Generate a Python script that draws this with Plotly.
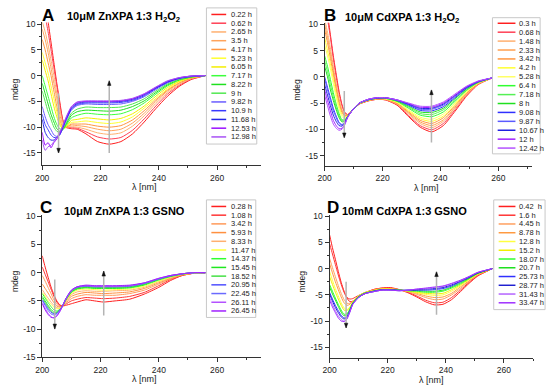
import plotly.graph_objects as go

W, H = 550, 392

# ---------------- Panel A : 10uM ZnXPA 1:3 H2O2 ----------------
A_TITLE = "10μM ZnXPA 1:3 H<sub>2</sub>O<sub>2</sub>"
A_TIMES = ["0.22 h", "0.62 h", "2.65 h", "3.5 h", "4.17 h", "5.23 h", "6.05 h", "7.17 h",
           "8.22 h", "9 h", "9.82 h", "10.9 h", "11.68 h", "12.53 h", "12.98 h"]
A_COLORS = ["#ff1f1f", "#ff4055", "#ffb070", "#ffa45c", "#ff9640", "#ffff30", "#f4ee00", "#3cff3c",
            "#1fe01f", "#50e850", "#6a5cff", "#3a3aff", "#2626e6", "#9a10ff", "#a852f5"]
A_NM = [200, 201, 202, 203, 204, 205, 206, 207, 208, 210, 212, 215, 219, 223, 227, 231, 235, 239,
        243, 247, 251, 256]
A_MDEG = [
    [17, 14, 10.5, 9, 7, 4.5, 3, 0, -1.5, -3, -6, -7.5, -8.5, -11, -12.5],
    [14, 11.5, 8.5, 7, 5, 2.5, 1, -2, -3.5, -5, -8, -9.5, -11, -13.5, -14.5],
    [10.5, 8.5, 6, 4.5, 2.5, 0.5, -1, -4, -5.5, -7, -9.5, -10.5, -12, -13, -13.8],
    [6.5, 5, 3, 1.5, 0, -2, -3.5, -6, -7.5, -8.5, -10.5, -11.5, -12.5, -14, -13.5],
    [2.5, 1.5, 0, -1.5, -3, -4.5, -6, -8, -9, -10, -11.5, -12, -12.5, -13, -12.8],
    [-1.5, -2, -3.5, -4.5, -6, -7, -8, -9.5, -10.3, -10.8, -11.8, -12, -12, -12.3, -12],
    [-5, -5.5, -6.5, -7.5, -8.5, -9, -9.5, -10.3, -10.8, -11, -11.5, -11.5, -11.3, -11.3, -11],
    [-8.5, -8.5, -9, -9.5, -10, -10.2, -10.3, -10.5, -10.5, -10.5, -10.3, -10.2, -10, -10, -9.8],
    [-10, -10, -10, -10, -10.1, -10, -10, -9.8, -9.6, -9.4, -9, -8.8, -8.6, -8.5, -8.3],
    [-10.3, -10.1, -9.9, -9.6, -9.4, -9.1, -8.7, -8.2, -7.7, -7.3, -6.7, -6.5, -6.3, -6.1, -6.0],
    [-10.4, -10.2, -10.0, -9.7, -9.4, -9.0, -8.5, -7.7, -7.0, -6.5, -5.8, -5.6, -5.4, -5.2, -5.1],
    [-11.3, -10.9, -10.4, -9.9, -9.4, -8.8, -8.2, -7.3, -6.7, -6.1, -5.5, -5.3, -5.1, -5.0, -4.9],
    [-12.8, -11.9, -11.1, -10.4, -9.8, -9.1, -8.4, -7.5, -6.8, -6.2, -5.6, -5.3, -5.1, -5.0, -4.9],
    [-13.3, -12.3, -11.4, -10.7, -10.0, -9.3, -8.6, -7.6, -6.9, -6.2, -5.6, -5.3, -5.1, -5.0, -4.9],
    [-12.8, -12.0, -11.1, -10.4, -9.7, -9.0, -8.3, -7.4, -6.7, -6.1, -5.5, -5.2, -5.0, -4.9, -4.8],
    [-11.3, -10.6, -9.8, -9.2, -8.6, -8.0, -7.4, -6.6, -6.0, -5.5, -5.0, -4.8, -4.6, -4.5, -4.4],
    [-9.0, -8.4, -7.8, -7.3, -6.8, -6.3, -5.9, -5.3, -4.9, -4.5, -4.1, -3.9, -3.7, -3.6, -3.5],
    [-6.4, -5.9, -5.4, -5.0, -4.7, -4.4, -4.0, -3.6, -3.3, -3.0, -2.7, -2.5, -2.4, -2.3, -2.2],
    [-4.0, -3.6, -3.3, -3.0, -2.8, -2.6, -2.3, -2.0, -1.8, -1.6, -1.4, -1.3, -1.2, -1.1, -1.0],
    [-2.1, -1.9, -1.7, -1.5, -1.4, -1.2, -1.1, -0.9, -0.8, -0.7, -0.6, -0.5, -0.5, -0.4, -0.4],
    [-0.8, -0.7, -0.6, -0.5, -0.5, -0.4, -0.4, -0.3, -0.3, -0.2, -0.2, -0.2, -0.1, -0.1, -0.1],
    [0.0, 0.0, 0.0, 0.0, 0.0, 0.0, 0.0, 0.0, 0.0, 0.0, 0.0, 0.0, 0.0, 0.0, 0.0],
]

# ---------------- Panel B : 10uM CdXPA 1:3 H2O2 ----------------
B_TITLE = "10μM CdXPA 1:3 H<sub>2</sub>O<sub>2</sub>"
B_TIMES = ["0.3 h", "0.68 h", "1.48 h", "2.33 h", "3.42 h", "4.2 h", "5.28 h", "6.4 h", "7.18 h",
           "8 h", "9.08 h", "9.87 h", "10.67 h", "12 h", "12.42 h"]
B_COLORS = ["#ff1f1f", "#ff4055", "#ffb070", "#ffa050", "#ff9640", "#ffff30", "#ffff66", "#30ff30",
            "#55f055", "#1fe01f", "#3030ff", "#5a5aff", "#2020e0", "#a020ff", "#b452ff"]
B_NM = [200, 201, 202, 203, 204, 205, 206, 207, 208, 210, 212, 215, 218, 221, 225, 229, 233, 237,
        241, 245, 249, 253, 258]
B_MDEG = [
    [16, 14, 11, 10, 9, 7.5, 6, 4, 3, 2, 0, -0.5, -1.5, -2.5, -3.5],
    [12, 11, 8.5, 7.5, 6.5, 5, 4, 2, 1, 0, -2, -2.5, -3.5, -4.5, -5.5],
    [8, 7.5, 5.5, 4.5, 3.5, 2.5, 1.5, -0.5, -1.5, -2.5, -4, -4.5, -5.5, -6.5, -7.5],
    [4, 3.5, 2, 1.2, 0.5, -0.5, -1.3, -3, -3.8, -4.5, -6, -6.5, -7.3, -8.3, -9],
    [0.5, 0, -1.3, -2, -2.5, -3.3, -4, -5.2, -5.8, -6.3, -7.5, -7.8, -8.5, -9.3, -9.8],
    [-2.8, -3.2, -4.2, -4.7, -5.1, -5.7, -6.2, -7, -7.4, -7.8, -8.7, -8.9, -9.3, -9.9, -10.2],
    [-5.3, -5.5, -6.2, -6.5, -6.8, -7.2, -7.6, -8.2, -8.4, -8.6, -9.1, -9.2, -9.4, -9.8, -10.0],
    [-6.8, -6.9, -7.2, -7.4, -7.5, -7.7, -7.9, -8.2, -8.3, -8.4, -8.7, -8.7, -8.8, -9.0, -9.1],
    [-7.2, -7.2, -7.3, -7.3, -7.3, -7.4, -7.4, -7.5, -7.5, -7.5, -7.6, -7.6, -7.6, -7.7, -7.7],
    [-6.2, -6.1, -6.1, -6.1, -6.1, -6.1, -6.1, -6.1, -6.1, -6.1, -6.1, -6.1, -6.1, -6.1, -6.1],
    [-5.2, -5.2, -5.1, -5.1, -5.1, -5.1, -5.1, -5.1, -5.1, -5.0, -5.0, -5.0, -5.0, -5.0, -5.0],
    [-4.6, -4.6, -4.5, -4.5, -4.5, -4.5, -4.4, -4.4, -4.4, -4.4, -4.4, -4.4, -4.3, -4.3, -4.3],
    [-4.3, -4.3, -4.2, -4.2, -4.2, -4.2, -4.1, -4.1, -4.1, -4.1, -4.1, -4.0, -4.0, -4.0, -4.0],
    [-4.4, -4.4, -4.3, -4.3, -4.2, -4.2, -4.2, -4.1, -4.1, -4.1, -4.0, -4.0, -4.0, -4.0, -4.0],
    [-5.4, -5.3, -5.2, -5.1, -5.0, -4.9, -4.8, -4.7, -4.6, -4.6, -4.5, -4.5, -4.4, -4.4, -4.4],
    [-7.6, -7.4, -7.1, -6.9, -6.7, -6.5, -6.3, -6.0, -5.8, -5.6, -5.4, -5.3, -5.2, -5.1, -5.0],
    [-9.6, -9.3, -8.9, -8.6, -8.3, -8.0, -7.7, -7.3, -7.0, -6.7, -6.4, -6.2, -6.0, -5.8, -5.6],
    [-10.5, -10.1, -9.7, -9.3, -8.9, -8.5, -8.1, -7.6, -7.2, -6.8, -6.5, -6.2, -6.0, -5.8, -5.6],
    [-9.3, -8.9, -8.5, -8.2, -7.8, -7.5, -7.1, -6.7, -6.3, -6.0, -5.7, -5.4, -5.2, -5.0, -4.8],
    [-6.6, -6.3, -6.0, -5.8, -5.5, -5.3, -5.0, -4.7, -4.5, -4.2, -4.0, -3.8, -3.6, -3.5, -3.3],
    [-3.7, -3.5, -3.4, -3.2, -3.1, -2.9, -2.8, -2.6, -2.5, -2.3, -2.2, -2.1, -2.0, -1.9, -1.8],
    [-1.5, -1.4, -1.4, -1.3, -1.3, -1.2, -1.2, -1.1, -1.1, -1.0, -1.0, -0.9, -0.9, -0.9, -0.8],
    [-0.2, -0.2, -0.2, -0.2, -0.2, -0.2, -0.2, -0.2, -0.2, -0.2, -0.2, -0.2, -0.2, -0.2, -0.2],
]

# ---------------- Panel C : 10uM ZnXPA 1:3 GSNO ----------------
C_TITLE = "10μM ZnXPA 1:3 GSNO"
C_TIMES = ["0.28 h", "1.08 h", "3.42 h", "5.93 h", "8.33 h", "11.47 h", "14.37 h", "15.45 h",
           "18.52 h", "20.95 h", "22.45 h", "26.11 h", "26.45 h"]
C_COLORS = ["#ff1f1f", "#ff3535", "#ff9a5a", "#ff9040", "#ffb070", "#ffff40", "#30ff30", "#1fe81f",
            "#45e045", "#5050ff", "#6a6aff", "#b452ff", "#a020ff"]
C_NM = [200, 201, 202, 203, 204, 205, 206, 207, 208, 210, 212, 215, 218, 221, 225, 230, 235, 240,
        244, 248, 252, 256]
C_MDEG = [
    [3.0, 1.0, -0.5, -2.0, -3.0, -3.5, -3.7, -4.2, -4.5, -4.8, -5.0, -5.3, -5.5],
    [1.0, -0.3, -1.5, -2.8, -3.8, -4.2, -4.5, -5.0, -5.3, -5.6, -5.8, -6.3, -6.6],
    [-0.8, -1.6, -2.6, -3.6, -4.5, -5.0, -5.3, -5.8, -6.1, -6.4, -6.7, -7.2, -7.4],
    [-2.5, -2.9, -3.7, -4.5, -5.2, -5.6, -6.0, -6.5, -6.8, -7.0, -7.3, -7.8, -7.9],
    [-3.9, -4.2, -4.8, -5.3, -5.8, -6.1, -6.6, -7.0, -7.2, -7.3, -7.5, -8.0, -8.0],
    [-5.0, -5.2, -5.6, -5.9, -6.2, -6.4, -6.8, -7.0, -7.1, -7.2, -7.3, -7.6, -7.7],
    [-5.7, -5.8, -6.0, -6.1, -6.3, -6.3, -6.5, -6.6, -6.6, -6.6, -6.7, -6.9, -6.9],
    [-5.9, -5.9, -5.9, -5.9, -5.9, -5.9, -5.9, -5.9, -5.9, -5.8, -5.8, -5.9, -5.9],
    [-5.8, -5.6, -5.4, -5.2, -5.1, -5.0, -4.9, -4.9, -4.8, -4.8, -4.7, -4.8, -4.7],
    [-5.5, -5.0, -4.6, -4.2, -3.9, -3.7, -3.5, -3.4, -3.3, -3.2, -3.1, -3.2, -3.1],
    [-5.2, -4.7, -4.2, -3.8, -3.4, -3.1, -2.9, -2.8, -2.7, -2.6, -2.5, -2.5, -2.5],
    [-4.8, -4.4, -3.9, -3.5, -3.2, -2.9, -2.7, -2.6, -2.5, -2.4, -2.3, -2.3, -2.2],
    [-5.0, -4.5, -4.0, -3.6, -3.3, -3.0, -2.8, -2.7, -2.6, -2.5, -2.4, -2.4, -2.3],
    [-5.2, -4.6, -4.0, -3.7, -3.3, -3.1, -2.8, -2.7, -2.6, -2.5, -2.4, -2.4, -2.3],
    [-5.0, -4.5, -4.0, -3.6, -3.2, -3.0, -2.8, -2.7, -2.6, -2.5, -2.4, -2.4, -2.3],
    [-4.7, -4.2, -3.7, -3.4, -3.1, -2.9, -2.7, -2.6, -2.5, -2.4, -2.3, -2.3, -2.2],
    [-3.8, -3.5, -3.1, -2.8, -2.6, -2.4, -2.2, -2.1, -2.0, -1.9, -1.9, -1.8, -1.8],
    [-2.6, -2.3, -2.0, -1.8, -1.6, -1.5, -1.3, -1.2, -1.2, -1.1, -1.1, -1.0, -1.0],
    [-1.4, -1.2, -1.1, -1.0, -0.9, -0.8, -0.7, -0.6, -0.6, -0.6, -0.5, -0.5, -0.5],
    [-0.5, -0.5, -0.4, -0.4, -0.3, -0.3, -0.3, -0.2, -0.2, -0.2, -0.2, -0.2, -0.2],
    [-0.1, -0.1, -0.1, -0.1, -0.1, -0.1, 0.0, 0.0, 0.0, 0.0, 0.0, 0.0, 0.0],
    [0.0, 0.0, 0.0, 0.0, 0.0, 0.0, 0.0, 0.0, 0.0, 0.0, 0.0, 0.0, 0.0],
]

# ---------------- Panel D : 10mM CdXPA 1:3 GSNO ----------------
D_TITLE = "10mM CdXPA 1:3 GSNO"
D_TIMES = ["0.42  h", "1.6 h", "4.45 h", "8.78 h", "12.8 h", "15.2 h", "18.07 h", "20.7 h",
           "25.73 h", "28.77 h", "31.43 h", "33.47 h"]
D_COLORS = ["#ff1f1f", "#ff3535", "#ffa060", "#ff9a40", "#ffff40", "#f0f000", "#30ff30", "#1fe01f",
            "#3030ff", "#2020d0", "#b463ff", "#a030ff"]
D_NM = [200, 201, 202, 203, 204, 205, 206, 207, 208, 210, 212, 215, 218, 221, 224, 227, 230, 233,
        236, 239, 242, 245, 248, 251, 256]
D_MDEG = [
    [6.5, 4.8, 2.0, 1.0, -0.5, -1.5, -3.0, -3.5, -4.5, -4.8, -5.5, -6.0],
    [4.0, 2.8, 0.2, -0.8, -2.2, -3.0, -4.3, -4.8, -5.8, -6.2, -6.8, -7.3],
    [1.8, 0.8, -1.5, -2.5, -3.8, -4.5, -5.6, -6.0, -7.0, -7.4, -8.0, -8.4],
    [-0.5, -1.2, -3.2, -4.0, -5.2, -5.8, -6.8, -7.2, -8.0, -8.4, -9.0, -9.4],
    [-2.6, -3.0, -4.7, -5.4, -6.5, -7.0, -7.9, -8.3, -8.9, -9.2, -9.7, -10.0],
    [-4.3, -4.5, -5.9, -6.5, -7.5, -7.9, -8.7, -9.0, -9.4, -9.6, -10.0, -10.1],
    [-5.6, -5.5, -6.6, -7.0, -7.8, -8.0, -8.6, -8.8, -9.1, -9.3, -9.5, -9.6],
    [-6.3, -5.8, -6.6, -6.8, -7.3, -7.4, -7.7, -7.8, -8.0, -8.1, -8.2, -8.3],
    [-6.2, -5.7, -6.2, -6.2, -6.4, -6.4, -6.5, -6.6, -6.7, -6.7, -6.8, -6.8],
    [-5.4, -5.1, -5.2, -5.2, -5.2, -5.3, -5.3, -5.4, -5.4, -5.5, -5.5, -5.5],
    [-4.8, -4.6, -4.6, -4.6, -4.6, -4.7, -4.7, -4.7, -4.8, -4.8, -4.8, -4.8],
    [-4.0, -4.0, -4.1, -4.1, -4.2, -4.2, -4.3, -4.3, -4.3, -4.4, -4.4, -4.4],
    [-3.7, -3.7, -3.8, -3.8, -3.9, -3.9, -4.0, -4.0, -4.0, -4.1, -4.1, -4.1],
    [-3.6, -3.7, -3.8, -3.8, -3.9, -3.9, -4.0, -4.0, -4.0, -4.1, -4.1, -4.1],
    [-4.0, -4.0, -4.0, -4.0, -4.1, -4.1, -4.1, -4.1, -4.1, -4.2, -4.2, -4.2],
    [-4.6, -4.5, -4.4, -4.3, -4.3, -4.2, -4.2, -4.2, -4.1, -4.1, -4.1, -4.1],
    [-5.4, -5.2, -4.9, -4.7, -4.6, -4.5, -4.3, -4.2, -4.1, -4.0, -3.9, -3.9],
    [-6.3, -6.0, -5.5, -5.2, -4.9, -4.7, -4.5, -4.3, -4.1, -3.9, -3.8, -3.7],
    [-6.9, -6.5, -5.9, -5.5, -5.1, -4.8, -4.5, -4.3, -4.0, -3.8, -3.6, -3.5],
    [-6.8, -6.4, -5.8, -5.4, -5.0, -4.7, -4.3, -4.1, -3.8, -3.6, -3.4, -3.3],
    [-5.9, -5.5, -5.0, -4.7, -4.3, -4.0, -3.7, -3.5, -3.3, -3.1, -2.9, -2.8],
    [-4.4, -4.1, -3.8, -3.5, -3.3, -3.1, -2.9, -2.7, -2.5, -2.4, -2.3, -2.2],
    [-2.8, -2.6, -2.4, -2.3, -2.1, -2.0, -1.9, -1.8, -1.7, -1.6, -1.5, -1.5],
    [-1.4, -1.3, -1.2, -1.1, -1.0, -1.0, -0.9, -0.9, -0.8, -0.8, -0.7, -0.7],
    [0.0, 0.0, 0.0, 0.0, 0.0, 0.0, 0.0, 0.0, 0.0, 0.0, 0.0, 0.0],
]

# ---------------- layout configuration (pixels) ----------------
PANELS = [
    dict(letter="A", title=A_TITLE, nm=A_NM, rows=A_MDEG, times=A_TIMES, colors=A_COLORS,
         xpx=(35.7, 257.0), ypx=(19.9, 165.7), xr=(200, 275), yr=(-17.4, 10.3),
         letter_xy=(42, 13), title_xy=(118, 14), ylab_xy=(8, 88), xlab_xy=(139, 188),
         leg_box=(202, 5, 253, 144), leg_y0=11.7, leg_dy=8.93, leg_line=(207, 222), leg_tx=225,
         arrows=[(205.6, -3.4, -15.0, "down"), (223.0, -15.0, -1.0, "up")]),
    dict(letter="B", title=B_TITLE, nm=B_NM, rows=B_MDEG, times=B_TIMES, colors=B_COLORS,
         xpx=(321.7, 531.7), ypx=(20.1, 166.7), xr=(200, 271.6), yr=(-17.05, 10.3),
         letter_xy=(327, 13), title_xy=(400, 15), ylab_xy=(294, 88), xlab_xy=(425, 189),
         leg_box=(491.7, 15, 540, 154), leg_y0=20.7, leg_dy=9.1, leg_line=(497, 515), leg_tx=517,
         arrows=[(206.8, -2.7, -11.6, "down"), (236.9, -12.5, -2.5, "up")]),
    dict(letter="C", title=C_TITLE, nm=C_NM, rows=C_MDEG, times=C_TIMES, colors=C_COLORS,
         xpx=(35.7, 257.0), ypx=(216.0, 361.7), xr=(200, 275), yr=(-15, 10.3),
         letter_xy=(40, 209), title_xy=(119, 212), ylab_xy=(8, 284), xlab_xy=(139, 384),
         leg_box=(202, 201, 252, 321), leg_y0=207.7, leg_dy=8.89, leg_line=(207, 222), leg_tx=225,
         arrows=[(204.3, -1.2, -10.0, "down"), (221.1, -7.6, 0.3, "up")]),
    dict(letter="D", title=D_TITLE, nm=D_NM, rows=D_MDEG, times=D_TIMES, colors=D_COLORS,
         xpx=(326.7, 532.8), ypx=(216.1, 362.7), xr=(200, 270), yr=(-17.1, 10.3),
         letter_xy=(330, 209), title_xy=(403, 212), ylab_xy=(299, 284), xlab_xy=(430, 385),
         leg_box=(493, 201, 545, 313), leg_y0=207.7, leg_dy=8.94, leg_line=(498, 515), leg_tx=517,
         arrows=[(205.7, -2.5, -11.3, "down"), (236.8, -8.8, -0.6, "up")]),
]

FONT = "Liberation Sans, Arial, sans-serif"


def px(x):
    return x / W


def py(y):
    return 1 - y / H


fig = go.Figure()
shapes = []
annotations = []
layout = {}

for i, p in enumerate(PANELS):
    n = "" if i == 0 else str(i + 1)
    xa, ya = "x" + n, "y" + n
    ncurves = len(p["times"])
    for c in range(ncurves):
        yvals = [row[c] for row in p["rows"]]
        fig.add_trace(go.Scatter(
            x=p["nm"], y=yvals, mode="lines", xaxis=xa, yaxis=ya,
            line=dict(color=p["colors"][c], width=1, shape="spline", smoothing=0.6),
            showlegend=False, hoverinfo="skip"))

    layout["xaxis" + n] = dict(
        domain=[px(p["xpx"][0]), px(p["xpx"][1])], range=list(p["xr"]), anchor=ya,
        showline=True, linecolor="#333", linewidth=1, ticks="outside", ticklen=4,
        tickcolor="#333", tickvals=[200, 220, 240, 260], showgrid=False, zeroline=False,
        minor=dict(ticks="outside", ticklen=2, tickvals=[210, 230, 250, 270], tickcolor="#333"),
        tickfont=dict(family=FONT, size=8.5, color="#222"))
    layout["yaxis" + n] = dict(
        domain=[py(p["ypx"][1]), py(p["ypx"][0])], range=list(p["yr"]), anchor=xa,
        showline=True, linecolor="#333", linewidth=1, ticks="outside", ticklen=4,
        tickcolor="#333", tickvals=[-15, -10, -5, 0, 5, 10],
        ticktext=["-15", "-10", "-5", "0", "5", "10"], showgrid=False, zeroline=False,
        minor=dict(ticks="outside", ticklen=2, tickvals=[-17.5, -12.5, -7.5, -2.5, 2.5, 7.5],
                   tickcolor="#333"),
        tickfont=dict(family=FONT, size=8.5, color="#222"))

    # panel letter and title
    annotations.append(dict(text="<b>%s</b>" % p["letter"], x=px(p["letter_xy"][0]),
                            y=py(p["letter_xy"][1]), xref="paper", yref="paper",
                            xanchor="center", yanchor="middle",
                            showarrow=False, font=dict(family=FONT, size=17, color="#000")))
    annotations.append(dict(text="<b>%s</b>" % p["title"], x=px(p["title_xy"][0]),
                            y=py(p["title_xy"][1]), xref="paper", yref="paper",
                            xanchor="center", yanchor="middle",
                            showarrow=False, font=dict(family=FONT, size=11, color="#000")))
    # axis titles
    annotations.append(dict(text="mdeg", x=px(p["ylab_xy"][0]), y=py(p["ylab_xy"][1]),
                            xref="paper", yref="paper", showarrow=False, textangle=-90,
                            xanchor="center", yanchor="middle",
                            font=dict(family=FONT, size=8.5, color="#222")))
    annotations.append(dict(text="λ [nm]", x=px(p["xlab_xy"][0]), y=py(p["xlab_xy"][1]),
                            xref="paper", yref="paper", showarrow=False,
                            xanchor="center", yanchor="middle",
                            font=dict(family=FONT, size=9, color="#222")))

    # arrows: gray guide line + small black triangular head
    for (ax_nm, y_from, y_to, kind) in p["arrows"]:
        shapes.append(dict(type="line", xref=xa, yref=ya, x0=ax_nm, x1=ax_nm, y0=y_from, y1=y_to,
                           line=dict(color="#b4b4b4", width=1.5), layer="above"))
        hh = 0.9 if kind == "down" else -0.9
        hw = 0.6
        path = "M %.2f,%.2f L %.2f,%.2f L %.2f,%.2f Z" % (
            ax_nm, y_to, ax_nm - hw, y_to + hh, ax_nm + hw, y_to + hh)
        shapes.append(dict(type="path", xref=xa, yref=ya, path=path, fillcolor="#111",
                           line=dict(color="#111", width=0.5), layer="above"))

    # legend drawn manually
    bx0, by0, bx1, by1 = p["leg_box"]
    shapes.append(dict(type="rect", xref="paper", yref="paper", x0=px(bx0), x1=px(bx1),
                       y0=py(by1), y1=py(by0), line=dict(color="#c8c8c8", width=1),
                       fillcolor="white", layer="above"))
    for c in range(ncurves):
        yy = p["leg_y0"] + c * p["leg_dy"]
        shapes.append(dict(type="line", xref="paper", yref="paper", x0=px(p["leg_line"][0]),
                           x1=px(p["leg_line"][1]), y0=py(yy), y1=py(yy),
                           line=dict(color=p["colors"][c], width=1.5), layer="above"))
        annotations.append(dict(text=p["times"][c], x=px(p["leg_tx"]), y=py(yy), xref="paper",
                                yref="paper", xanchor="left", yanchor="middle", showarrow=False,
                                font=dict(family=FONT, size=7.5, color="#222")))

fig.update_layout(width=W, height=H, margin=dict(l=0, r=0, t=0, b=0),
                  paper_bgcolor="white", plot_bgcolor="white", showlegend=False,
                  shapes=shapes, annotations=annotations, **layout)

fig.write_html("out.html", config={"displayModeBar": False, "staticPlot": True},
               post_script="document.body.style.margin='0';document.body.style.padding='0';")
